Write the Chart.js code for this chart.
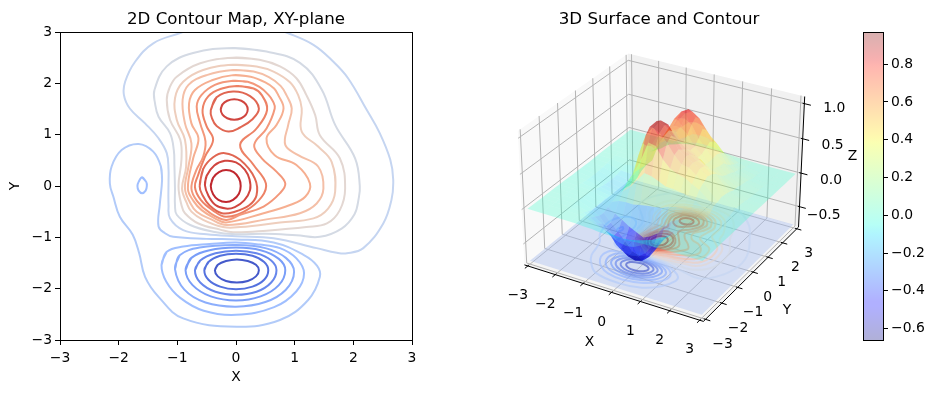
<!DOCTYPE html>
<html>
<head>
<meta charset="utf-8">
<script src="https://cdn.jsdelivr.net/npm/chart.js@4/dist/chart.umd.min.js"></script>
<style>
html, body { margin: 0; padding: 0; background: #fff; width: 935px; height: 393px; overflow: hidden; }
canvas { position: absolute; top: 0; }
#map { left: 0; }
#surface { left: 440px; }
#cbar { left: 840px; }
</style>
</head>
<body>
<canvas id="map" width="472" height="393"></canvas>
<canvas id="surface" width="438" height="393"></canvas>
<canvas id="cbar" width="95" height="393"></canvas>
<script>
const axisTicks = [-3, -2, -1, 0, 1, 2, 3];
const zTicks = [-0.5, 0, 0.5, 1];
const cbarTicks = [-0.6, -0.4, -0.2, 0, 0.2, 0.4, 0.6, 0.8];
const zMin = -0.66;
const zMax = 0.97;

// contour lines, lowest level first
const levelM7 = [[-0.36,-1.64],[-0.31,-1.535],[-0.17,-1.46],[0.015,-1.43],[0.20,-1.46],[0.34,-1.535],[0.39,-1.64],[0.34,-1.76],[0.20,-1.85],[0.015,-1.88],[-0.17,-1.85],[-0.31,-1.76]];
const levelM6 = [[-0.54,-1.64],[-0.47,-1.48],[-0.27,-1.36],[0,-1.32],[0.28,-1.36],[0.48,-1.48],[0.55,-1.64],[0.48,-1.825],[0.28,-1.96],[0,-2.01],[-0.27,-1.96],[-0.47,-1.825]];
const levelM5 = [[-0.70,-1.64],[-0.61,-1.45],[-0.35,-1.31],[0,-1.26],[0.35,-1.31],[0.60,-1.45],[0.69,-1.64],[0.60,-1.88],[0.35,-2.06],[0,-2.12],[-0.35,-2.06],[-0.61,-1.88]];
const levelM4 = [[-0.86,-1.64],[-0.76,-1.40],[-0.45,-1.25],[0,-1.20],[0.42,-1.25],[0.73,-1.42],[0.84,-1.64],[0.73,-1.93],[0.42,-2.15],[0,-2.23],[-0.43,-2.15],[-0.74,-1.93]];
const levelM3 = [[-1.04,-1.62],[-0.96,-1.35],[-0.62,-1.20],[0,-1.15],[0.50,-1.21],[0.85,-1.40],[0.99,-1.67],[0.85,-2.02],[0.50,-2.26],[0,-2.35],[-0.52,-2.27],[-0.88,-2.02]];
const levelM2 = [[-1.27,-1.54],[-1.18,-1.28],[-0.90,-1.18],[-0.45,-1.13],[0,-1.10],[0.40,-1.14],[0.75,-1.21],[1.03,-1.41],[1.16,-1.70],[1.03,-2.05],[0.65,-2.36],[0,-2.51],[-0.55,-2.43],[-0.95,-2.18],[-1.19,-1.86]];
const levelM2Loop = [[-1.60,0.17],[-1.53,0.08],[-1.52,0],[-1.54,-0.09],[-1.60,-0.14],[-1.66,-0.09],[-1.68,0],[-1.66,0.08]];
const levelM1 = [[-1.26,0.12],[-1.28,0.38],[-1.41,0.67],[-1.66,0.82],[-1.95,0.70],[-2.12,0.38],[-2.15,0.05],[-2.09,-0.21],[-1.98,-0.60],[-1.76,-0.95],[-1.65,-1.31],[-1.55,-1.77],[-1.32,-2.16],[-0.90,-2.58],[0.01,-2.74],[0.75,-2.61],[1.23,-2.22],[1.43,-1.77],[1.38,-1.55],[1.15,-1.34],[0.64,-1.10],[0,-1.04],[-0.50,-1.03],[-1.07,-0.99],[-1.21,-0.92],[-1.32,-0.79],[-1.30,-0.37]];
const levelL1 = [[-0.7,3.1],[-0.93,2.99],[-1.41,2.78],[-1.72,2.42],[-1.89,2.03],[-1.91,1.77],[-1.81,1.51],[-1.55,1.22],[-1.32,0.93],[-1.18,0.64],[-1.15,0.31],[-1.15,0.12],[-1.15,-0.37],[-1.125,-0.63],[-0.90,-0.86],[-0.50,-0.94],[0,-0.98],[0.64,-1.02],[1.375,-1.21],[1.72,-1.30],[1.89,-1.31],[2.17,-1.21],[2.51,-0.73],[2.65,-0.27],[2.68,0.12],[2.63,0.51],[2.45,1.03],[2.23,1.48],[1.91,2.10],[1.66,2.42],[1.32,2.75],[0.86,2.99],[0.6,3.1]];
const levelL2 = [[-0.05,2.69],[0.52,2.62],[1.09,2.40],[1.46,1.88],[1.69,1.19],[2.03,0.54],[2.11,0],[2.09,-0.25],[2.02,-0.55],[1.80,-0.83],[1.43,-0.99],[1.03,-0.96],[0.5,-0.93],[0,-0.94],[-0.39,-0.89],[-0.78,-0.76],[-1.01,-0.56],[-1.04,-0.37],[-1.04,-0.05],[-1.05,0.40],[-1.06,0.70],[-1.125,1.03],[-1.32,1.35],[-1.38,1.61],[-1.39,1.87],[-1.18,2.33],[-0.73,2.59]];
const levelL3 = [[-0.05,2.50],[0.40,2.46],[0.75,2.33],[1.03,2.10],[1.20,1.77],[1.35,1.38],[1.43,0.99],[1.77,0.54],[1.86,-0.05],[1.77,-0.47],[1.55,-0.73],[1.20,-0.80],[0.52,-0.87],[-0.05,-0.90],[-0.27,-0.85],[-0.64,-0.73],[-0.87,-0.53],[-0.93,-0.37],[-0.98,0],[-0.93,0.51],[-0.95,0.90],[-1.125,1.29],[-1.18,1.68],[-1.13,1.92],[-1.01,2.13],[-0.61,2.39]];
const levelL4 = [[-0.05,2.36],[0.35,2.33],[0.64,2.23],[0.92,2.02],[1.06,1.77],[1.12,1.51],[1.12,1.06],[1.40,0.77],[1.63,0.47],[1.69,-0.11],[1.57,-0.44],[1.32,-0.63],[0.75,-0.71],[0.07,-0.80],[-0.22,-0.80],[-0.56,-0.66],[-0.76,-0.50],[-0.84,-0.33],[-0.92,-0.05],[-0.85,0.38],[-0.87,0.90],[-1.01,1.29],[-1.04,1.71],[-0.90,2.03],[-0.56,2.26]];
const levelL5 = [[-0.05,2.26],[0.30,2.23],[0.56,2.12],[0.76,1.95],[0.86,1.77],[0.95,1.51],[0.89,1.19],[0.84,0.80],[1.06,0.60],[1.40,0.38],[1.49,-0.05],[1.375,-0.34],[1.09,-0.53],[0.52,-0.65],[-0.16,-0.76],[-0.44,-0.64],[-0.67,-0.50],[-0.78,-0.33],[-0.87,-0.05],[-0.81,0.38],[-0.76,0.83],[-0.87,1.22],[-0.91,1.68],[-0.81,1.97],[-0.5,2.16]];
const levelL6 = [[-0.05,2.16],[0.25,2.13],[0.50,2.02],[0.65,1.90],[0.72,1.77],[0.81,1.51],[0.69,1.19],[0.52,0.93],[0.66,0.60],[1.03,0.41],[1.26,0.05],[1.18,-0.21],[0.92,-0.37],[0.47,-0.53],[-0.17,-0.71],[-0.36,-0.63],[-0.585,-0.47],[-0.72,-0.30],[-0.82,-0.05],[-0.73,0.54],[-0.64,0.93],[-0.76,1.22],[-0.80,1.61],[-0.70,1.87],[-0.41,2.06]];
const levelL7 = [[-0.05,2.05],[0.20,2.03],[0.40,1.93],[0.55,1.78],[0.63,1.65],[0.66,1.51],[0.52,1.12],[0.31,0.80],[0.44,0.54],[0.69,0.28],[0.84,0.05],[0.75,-0.14],[0.47,-0.40],[0.07,-0.56],[-0.17,-0.66],[-0.45,-0.52],[-0.66,-0.30],[-0.76,-0.05],[-0.68,0.30],[-0.56,0.57],[-0.52,0.87],[-0.61,1.22],[-0.67,1.55],[-0.59,1.77],[-0.36,1.97]];
const levelG = [[0.01,1.95],[0.30,1.90],[0.44,1.77],[0.53,1.48],[0.35,1.12],[0.07,0.80],[0.30,0.41],[0.51,0.05],[0.44,-0.21],[0.18,-0.47],[-0.17,-0.60],[-0.40,-0.47],[-0.60,-0.27],[-0.70,-0.02],[-0.65,0.20],[-0.53,0.57],[-0.39,0.90],[-0.50,1.16],[-0.57,1.48],[-0.47,1.75],[-0.24,1.90]];
const levelF = [[-0.62,0],[-0.56,0.33],[-0.39,0.56],[-0.19,0.64],[0.07,0.51],[0.32,0.15],[0.35,-0.18],[0.22,-0.38],[-0.02,-0.50],[-0.24,-0.53],[-0.45,-0.38],[-0.57,-0.18]];
const levelB = [[-0.43,1.48],[-0.33,1.73],[-0.05,1.84],[0.24,1.75],[0.39,1.51],[0.27,1.29],[0.07,1.14],[-0.13,1.06],[-0.33,1.17],[-0.41,1.32]];
const levelE = [[-0.53,0.02],[-0.50,0.20],[-0.37,0.40],[-0.19,0.49],[0,0.46],[0.15,0.32],[0.23,0.13],[0.24,-0.08],[0.14,-0.28],[-0.02,-0.41],[-0.17,-0.44],[-0.35,-0.37],[-0.47,-0.19]];
const levelA = [[-0.26,1.49],[-0.23,1.59],[-0.15,1.66],[-0.03,1.69],[0.09,1.66],[0.17,1.59],[0.20,1.49],[0.17,1.39],[0.09,1.32],[-0.03,1.29],[-0.15,1.32],[-0.23,1.39]];
const levelD = [[-0.43,0],[-0.39,0.16],[-0.29,0.27],[-0.17,0.31],[-0.04,0.27],[0.05,0.15],[0.08,0],[0.05,-0.15],[-0.05,-0.27],[-0.17,-0.31],[-0.30,-0.27],[-0.39,-0.16]];

// surface heights, one row per Y value, estimated from the contours
const surfX = [-3, -2.5, -2, -1.5, -1.25, -1, -0.75, -0.5, -0.25, 0, 0.25, 0.5, 0.75, 1, 1.25, 1.5, 2, 2.5, 3];
const surfY = [-3, -2.5, -2.25, -2, -1.75, -1.5, -1.25, -1, -0.75, -0.5, -0.25, 0, 0.25, 0.5, 0.75, 1, 1.25, 1.5, 1.75, 2, 2.25, 2.5, 3];
const surfZ = [
    [0, 0, 0, 0, -0.002, -0.01, -0.015, -0.025, -0.03, -0.03, -0.03, -0.025, -0.015, -0.01, -0.005, -0.002, 0, 0, 0],
    [0, 0, -0.001, -0.01, -0.03, -0.06, -0.10, -0.13, -0.155, -0.165, -0.155, -0.13, -0.10, -0.065, -0.03, -0.01, 0, 0, 0],
    [0, 0, -0.005, -0.03, -0.07, -0.13, -0.19, -0.26, -0.31, -0.33, -0.31, -0.26, -0.18, -0.11, -0.05, -0.015, 0, 0, 0],
    [0, -0.002, -0.01, -0.065, -0.11, -0.18, -0.29, -0.43, -0.50, -0.52, -0.50, -0.43, -0.29, -0.17, -0.09, -0.03, 0, 0, 0],
    [0, -0.003, -0.015, -0.085, -0.15, -0.27, -0.38, -0.53, -0.62, -0.65, -0.62, -0.53, -0.38, -0.22, -0.12, -0.06, 0, 0, 0],
    [0, -0.003, -0.02, -0.09, -0.16, -0.27, -0.37, -0.48, -0.60, -0.63, -0.61, -0.46, -0.31, -0.20, -0.11, -0.05, 0, 0.002, 0],
    [0, -0.005, -0.025, -0.09, -0.13, -0.19, -0.25, -0.32, -0.37, -0.42, -0.37, -0.30, -0.16, -0.06, -0.01, 0.02, 0.015, 0.004, 0],
    [0, -0.01, -0.03, -0.08, -0.10, -0.06, -0.05, -0.05, -0.03, -0.01, 0, 0.02, 0.06, 0.09, 0.10, 0.11, 0.05, 0.01, 0],
    [0, -0.02, -0.05, -0.09, -0.07, 0.03, 0.12, 0.25, 0.38, 0.36, 0.32, 0.27, 0.265, 0.25, 0.22, 0.19, 0.06, 0.02, 0],
    [-0.005, -0.03, -0.07, -0.11, -0.07, 0.12, 0.29, 0.50, 0.76, 0.74, 0.58, 0.48, 0.43, 0.40, 0.34, 0.29, 0.12, 0.025, 0],
    [-0.005, -0.035, -0.09, -0.13, -0.05, 0.13, 0.48, 0.78, 0.92, 0.87, 0.76, 0.62, 0.52, 0.50, 0.42, 0.34, 0.13, 0.04, 0.002],
    [-0.005, -0.04, -0.10, -0.15, -0.07, 0.17, 0.60, 0.86, 0.97, 0.93, 0.82, 0.65, 0.58, 0.52, 0.47, 0.38, 0.15, 0.05, 0.005],
    [-0.005, -0.035, -0.10, -0.13, -0.07, 0.16, 0.52, 0.80, 0.93, 0.90, 0.74, 0.60, 0.56, 0.50, 0.45, 0.36, 0.14, 0.045, 0.002],
    [-0.01, -0.03, -0.09, -0.12, -0.05, 0.15, 0.47, 0.66, 0.82, 0.76, 0.64, 0.56, 0.50, 0.46, 0.38, 0.32, 0.12, 0.04, 0],
    [-0.005, -0.02, -0.07, -0.09, 0, 0.15, 0.38, 0.56, 0.70, 0.70, 0.58, 0.50, 0.42, 0.35, 0.31, 0.25, 0.09, 0.02, 0],
    [0, -0.005, -0.03, -0.01, 0.03, 0.14, 0.42, 0.60, 0.72, 0.72, 0.65, 0.50, 0.42, 0.33, 0.28, 0.19, 0.09, 0.015, 0],
    [0, 0, -0.005, 0.02, 0.09, 0.24, 0.47, 0.65, 0.78, 0.80, 0.74, 0.57, 0.46, 0.34, 0.26, 0.16, 0.07, 0.01, 0],
    [0, 0, 0, 0.07, 0.15, 0.30, 0.49, 0.70, 0.83, 0.89, 0.80, 0.66, 0.50, 0.35, 0.25, 0.14, 0.06, 0.005, 0],
    [0, 0, 0.01, 0.07, 0.15, 0.28, 0.48, 0.63, 0.76, 0.81, 0.74, 0.60, 0.46, 0.32, 0.18, 0.10, 0.04, 0.002, 0],
    [0, 0, 0.015, 0.04, 0.10, 0.22, 0.42, 0.50, 0.59, 0.61, 0.58, 0.47, 0.38, 0.27, 0.13, 0.085, 0.015, 0, 0],
    [0, 0, 0.005, 0.03, 0.085, 0.15, 0.24, 0.30, 0.37, 0.38, 0.37, 0.33, 0.24, 0.17, 0.09, 0.05, 0.01, 0, 0],
    [0, 0, 0.005, 0.03, 0.06, 0.09, 0.13, 0.17, 0.195, 0.20, 0.195, 0.18, 0.15, 0.11, 0.065, 0.03, 0.005, 0, 0],
    [0, 0, 0, 0.005, 0.01, 0.015, 0.02, 0.03, 0.035, 0.04, 0.035, 0.03, 0.02, 0.015, 0.01, 0.005, 0, 0, 0]
];

const contours = [
    [levelM7, "#4459ca"], [levelM6, "#5471de"], [levelM5, "#6787ec"], [levelM4, "#7a9ef8"],
    [levelM3, "#8caefc"], [levelM2, "#a0bfff"], [levelM2Loop, "#a0bfff"], [levelM1, "#b2cbf9"],
    [levelL2, "#d4dae4"], [levelL3, "#e3d7d2"], [levelL4, "#eecebd"], [levelL5, "#f4bfa7"],
    [levelL6, "#f6af91"], [levelL7, "#f3987b"], [levelG, "#ed8266"], [levelF, "#e06652"],
    [levelB, "#e06652"], [levelE, "#d0453f"], [levelA, "#d0453f"], [levelD, "#c0282f"]
];
const openContours = [[levelL1, "#c5d5f1"]];
const glowLevels = [levelL5, levelL6, levelL7, levelG, levelF, levelB, levelE, levelA, levelD];

const font = { family: "'DejaVu Sans'", size: 13.9 };
const minus = (s) => String(s).replace("-", "\u2212");

const framePlugin = {
    id: "frame",
    afterDraw(chart) {
        const { ctx, chartArea: a } = chart;
        ctx.save();
        ctx.strokeStyle = "#000";
        ctx.lineWidth = 1;
        ctx.strokeRect(Math.round(a.left) + 0.5, Math.round(a.top) + 0.5, Math.round(a.width), Math.round(a.height));
        ctx.restore();
    }
};

const toXY = (pts) => pts.map((p) => ({ x: p[0], y: p[1] }));
const closeLoop = (pts) => pts.concat([pts[0], pts[1]]);

const lineSet = (pts, color, width, tension) => ({
    data: pts,
    showLine: true,
    borderColor: color,
    borderWidth: width,
    pointRadius: 0,
    tension,
    fill: false
});

const polySet = (pts, color, tension) => ({
    data: pts,
    showLine: true,
    borderColor: "rgba(0,0,0,0)",
    borderWidth: 0,
    backgroundColor: color,
    pointRadius: 0,
    tension: tension || 0,
    fill: "shape"
});

const mapAxis = (title, pad) => ({
    type: "linear",
    min: -3,
    max: 3,
    title: { display: true, text: title, color: "#000", font, padding: 0 },
    afterBuildTicks: (s) => { s.ticks = axisTicks.map((v) => ({ value: v })); },
    ticks: { color: "#000", font, padding: pad, maxRotation: 0, autoSkip: false, callback: minus },
    grid: { drawOnChartArea: false, tickLength: 5, tickColor: "#000", tickWidth: 1 },
    border: { color: "#000", width: 1 }
});

const mapX = mapAxis("X", 5);
mapX.afterFit = (s) => { s.height = 46; };
const mapY = mapAxis("Y", 3);
mapY.afterFit = (s) => { s.width = 53; };

new Chart(document.getElementById("map"), {
    type: "scatter",
    data: {
        datasets: contours.map(([pts, color]) => lineSet(toXY(closeLoop(pts)), color, 2, 0.4))
            .concat(openContours.map(([pts, color]) => lineSet(toXY(pts), color, 2, 0.4)))
    },
    options: {
        responsive: false,
        animation: false,
        events: [],
        layout: { padding: { left: 7, right: 60, bottom: 7, top: 0 } },
        scales: { x: mapX, y: mapY },
        plugins: {
            legend: { display: false },
            tooltip: { enabled: false },
            title: {
                display: true,
                fullSize: false,
                text: "2D Contour Map, XY-plane",
                color: "#000",
                font: { family: "'DejaVu Sans'", size: 16.67, weight: "normal" },
                padding: { top: 10, bottom: 2 }
            }
        }
    },
    plugins: [framePlugin]
});

// 3D view: elevation 30, azimuth -60, seen from distance 10
const paneLim = 3.125;
const paneBottom = -0.81;
const paneTop = 1.10;
const floorZ = -0.76;

const project = (x, y, z) => {
    const X = x * 0.1905;
    const Y = y * 0.1905;
    const Z = -0.429 + 0.913 * (z - paneBottom) / (paneTop - paneBottom);
    const depth = 10 - (0.433 * X - 0.75 * Y + 0.5 * Z);
    return {
        x: (0.866 * X + 0.5 * Y) / depth,
        y: (-0.25 * X + 0.433 * Y + 0.866 * Z) / depth,
        depth
    };
};

const jetChannel = (t, stops) => {
    for (let i = 1; i < stops.length; i++) {
        if (t <= stops[i][0]) {
            const [t0, v0] = stops[i - 1];
            const [t1, v1] = stops[i];
            return v0 + (v1 - v0) * (t - t0) / (t1 - t0);
        }
    }
    return stops[stops.length - 1][1];
};
const jet = (t) => [
    jetChannel(t, [[0, 0], [0.35, 0], [0.66, 1], [0.89, 1], [1, 0.5]]),
    jetChannel(t, [[0, 0], [0.125, 0], [0.375, 1], [0.64, 1], [0.91, 0], [1, 0]]),
    jetChannel(t, [[0, 0.5], [0.11, 1], [0.34, 1], [0.65, 0], [1, 0]])
].map((v) => Math.round(v * 255));
const jetAt = (z, alpha) => {
    const t = Math.min(1, Math.max(0, (z - zMin) / (zMax - zMin)));
    return `rgba(${jet(t).join(",")},${alpha})`;
};
// the dip reads denser than the flat part, the peaks a little denser
const facetAlpha = (z) => 0.28 + Math.max(0, -z - 0.2) * 0.75 + Math.max(0, z - 0.6) * 0.35;

const line3d = (a, b, color, width) => lineSet([project(...a), project(...b)], color, width, 0);
const poly3d = (pts, color) => polySet(pts.concat([pts[0]]).map((p) => project(...p)), color);

const buildSurfaceSets = () => {
    const L = paneLim;
    const sets = [];
    const gridColor = "#b4b4b4";

    sets.push(poly3d([[-L, -L, paneBottom], [-L, L, paneBottom], [-L, L, paneTop], [-L, -L, paneTop]], "#f9f9f9"));
    sets.push(poly3d([[-L, L, paneBottom], [L, L, paneBottom], [L, L, paneTop], [-L, L, paneTop]], "#f1f1f1"));
    sets.push(poly3d([[-L, -L, paneBottom], [L, -L, paneBottom], [L, L, paneBottom], [-L, L, paneBottom]], "#f5f5f5"));

    axisTicks.forEach((v) => {
        sets.push(line3d([v, -L, paneBottom], [v, L, paneBottom], gridColor, 1));
        sets.push(line3d([v, L, paneBottom], [v, L, paneTop], gridColor, 1));
        sets.push(line3d([-L, v, paneBottom], [L, v, paneBottom], gridColor, 1));
        sets.push(line3d([-L, v, paneBottom], [-L, v, paneTop], gridColor, 1));
    });
    zTicks.forEach((v) => {
        sets.push(line3d([-L, -L, v], [-L, L, v], gridColor, 1));
        sets.push(line3d([-L, L, v], [L, L, v], gridColor, 1));
    });

    sets.push(poly3d([[-3, -3, floorZ], [3, -3, floorZ], [3, 3, floorZ], [-3, 3, floorZ]], "rgba(170,190,240,0.42)"));

    glowLevels.forEach((pts) => {
        const ring = pts.concat([pts[0]]).map((p) => project(p[0], p[1], floorZ));
        sets.push(polySet(ring, "rgba(225,130,40,0.06)", 0.4));
    });
    contours.forEach(([pts, color]) => {
        sets.push(lineSet(closeLoop(pts).map((p) => project(p[0], p[1], floorZ)), color + "aa", 2, 0.4));
    });
    openContours.forEach(([pts, color]) => {
        const inside = pts.filter((p) => p[1] <= 3);
        sets.push(lineSet(inside.map((p) => project(p[0], p[1], floorZ)), color + "aa", 2, 0.4));
    });

    const facets = [];
    for (let j = 0; j < surfY.length - 1; j++) {
        for (let i = 0; i < surfX.length - 1; i++) {
            const corners = [[i, j], [i + 1, j], [i + 1, j + 1], [i, j + 1]]
                .map(([a, b]) => [surfX[a], surfY[b], surfZ[b][a]]);
            const mean = corners.reduce((s, c) => s + c[2], 0) / 4;
            const depth = corners.reduce((s, c) => s + project(...c).depth, 0) / 4;
            facets.push({ corners, mean, depth });
        }
    }
    facets.sort((a, b) => b.depth - a.depth);
    facets.forEach((f) => sets.push(poly3d(f.corners, jetAt(f.mean, facetAlpha(f.mean)))));

    sets.push(line3d([-L, -L, paneBottom], [L, -L, paneBottom], "#000", 1));
    sets.push(line3d([L, -L, paneBottom], [L, L, paneBottom], "#000", 1));
    sets.push(line3d([L, L, paneBottom], [L, L, paneTop], "#000", 1));
    axisTicks.forEach((v) => {
        sets.push(line3d([v, -L + 0.06, paneBottom], [v, -L - 0.16, paneBottom], "#000", 1));
        sets.push(line3d([L - 0.06, v, paneBottom], [L + 0.16, v, paneBottom], "#000", 1));
    });
    zTicks.forEach((v) => {
        sets.push(line3d([L - 0.06, L, v], [L + 0.22, L, v], "#000", 1));
    });
    // chart.js paints the first dataset last
    return sets.reverse();
};

const labels3d = [
    ...axisTicks.map((v) => ({ text: minus(v), at: [v, -paneLim, paneBottom], dx: -10, dy: 29.5 })),
    ...axisTicks.map((v) => ({ text: minus(v), at: [paneLim, v, paneBottom], dx: 14.5 - v * 0.85, dy: 25 })),
    ...zTicks.map((v) => ({ text: minus(v.toFixed(1)), at: [paneLim, paneLim, v], dx: 41, dy: 5 + (1 - v) * 2.7, align: "right" })),
    { text: "X", at: [0, -paneLim, paneBottom], dx: -22, dy: 50 },
    { text: "Y", at: [paneLim, 0, paneBottom], dx: 34, dy: 38 },
    { text: "Z", at: [paneLim, paneLim, 0.15], dx: 51, dy: -7 }
];

const text3dPlugin = {
    id: "text3d",
    afterDatasetsDraw(chart) {
        const { ctx, scales } = chart;
        ctx.save();
        ctx.fillStyle = "#000";
        ctx.font = `${font.size}px ${font.family}`;
        ctx.textBaseline = "middle";
        labels3d.forEach((l) => {
            const p = project(...l.at);
            ctx.textAlign = l.align || "center";
            ctx.fillText(l.text, scales.x.getPixelForValue(p.x) + l.dx, scales.y.getPixelForValue(p.y) + l.dy);
        });
        ctx.restore();
    }
};

new Chart(document.getElementById("surface"), {
    type: "scatter",
    data: { datasets: buildSurfaceSets() },
    options: {
        responsive: false,
        animation: false,
        events: [],
        scales: {
            x: { type: "linear", display: false, min: (440 - 664) / 1721, max: (878 - 664) / 1721 },
            y: { type: "linear", display: false, min: (185 - 393) / 1667, max: (185 - 32) / 1667 }
        },
        plugins: {
            legend: { display: false },
            tooltip: { enabled: false },
            title: {
                display: true,
                text: "3D Surface and Contour",
                color: "#000",
                font: { family: "'DejaVu Sans'", size: 16.67, weight: "normal" },
                padding: { top: 10, bottom: 2 }
            }
        }
    },
    plugins: [text3dPlugin]
});

const cbarFill = (context) => {
    const { ctx, chartArea } = context.chart;
    if (!chartArea) {
        return "#fff";
    }
    const grad = ctx.createLinearGradient(0, chartArea.bottom, 0, chartArea.top);
    for (let i = 0; i <= 64; i++) {
        const [r, g, b] = jet(i / 64);
        grad.addColorStop(i / 64, `rgba(${r},${g},${b},0.31)`);
    }
    return grad;
};

new Chart(document.getElementById("cbar"), {
    type: "bar",
    data: {
        labels: ["Z"],
        datasets: [{
            data: [[zMin, zMax]],
            backgroundColor: cbarFill,
            barPercentage: 1,
            categoryPercentage: 1,
            borderWidth: 0
        }]
    },
    options: {
        responsive: false,
        animation: false,
        events: [],
        layout: { padding: { left: 23, top: 32, bottom: 53, right: 0 } },
        scales: {
            x: { display: false },
            y: {
                type: "linear",
                position: "right",
                min: zMin,
                max: zMax,
                afterBuildTicks: (s) => { s.ticks = cbarTicks.map((v) => ({ value: v })); },
                afterFit: (s) => { s.width = 52; },
                ticks: { color: "#000", font, padding: 3, autoSkip: false, callback: (v) => minus(v.toFixed(1)) },
                grid: { drawOnChartArea: false, tickLength: 5, tickColor: "#000", tickWidth: 1 },
                border: { color: "#000", width: 1 }
            }
        },
        plugins: { legend: { display: false }, tooltip: { enabled: false } }
    },
    plugins: [framePlugin]
});
</script>
</body>
</html>
